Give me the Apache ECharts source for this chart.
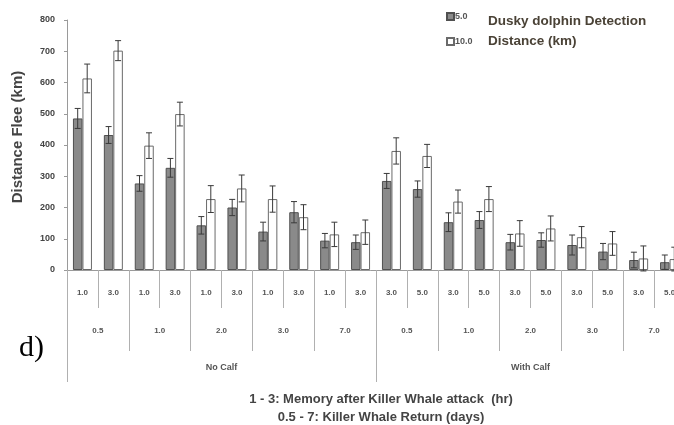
<!DOCTYPE html>
<html><head><meta charset="utf-8">
<script src="https://cdn.jsdelivr.net/npm/echarts@6/dist/echarts.min.js"></script>
<style>html,body{margin:0;padding:0;background:#fff}#c{width:674px;height:425px}</style>
</head><body><div id="c"></div>
<script>
const memoryLabels = ['1.0','3.0','1.0','3.0','1.0','3.0','1.0','3.0','1.0','3.0',
                      '3.0','5.0','3.0','5.0','3.0','5.0','3.0','5.0','3.0','5.0'];
const returnLabels = ['0.5','1.0','2.0','3.0','7.0','0.5','1.0','2.0','3.0','7.0'];
const calfLabels = ['No Calf','With Calf'];
const seriesNames = ['5.0','10.0'];
const det5 = [485,432,277,327,143,200,123,185,94,89,285,259,153,160,89,96,80,59,32,25];
const det5Err = [32,27,25,30,28,26,30,34,23,23,24,26,30,27,25,23,32,26,25,23];
const det10 = [613,702,398,499,227,261,227,169,114,121,381,365,219,227,117,133,105,85,37,35];
const det10Err = [46,32,41,38,43,43,42,40,39,39,42,37,37,40,41,40,34,38,40,38];
const yTitle = 'Distance Flee (km)';
const legendTitle = 'Dusky dolphin Detection\nDistance (km)';
const xTitle = '1 - 3: Memory after Killer Whale attack  (hr)\n0.5 - 7: Killer Whale Return (days)';
const panelLabel = 'd)';

const FONT = 'Liberation Sans';
const BW = 9.5;
const chart = echarts.init(document.getElementById('c'));

function errRender(shift){
  return function(params, api){
    const i = api.value(0), v = api.value(1), e = api.value(2);
    const t = api.coord([i, v + e]);
    const b = api.coord([i, v - e]);
    const cx = t[0] + shift, cw = 3;
    const st = {stroke:'#3a3a3a', lineWidth:1};
    return {type:'group', children:[
      {type:'line', shape:{x1:cx,y1:t[1],x2:cx,y2:b[1]}, style:st},
      {type:'line', shape:{x1:cx-cw,y1:t[1],x2:cx+cw,y2:t[1]}, style:st},
      {type:'line', shape:{x1:cx-cw,y1:b[1],x2:cx+cw,y2:b[1]}, style:st}
    ]};
  };
}

const labelBase = {fontFamily:FONT, fontWeight:'bold', color:'#555', interval:0};

chart.setOption({
  animation:false,
  backgroundColor:'#fff',
  grid:{left:67, top:20, width:618, height:250, containLabel:false, outerBoundsMode:'none'},
  title:{
    text: xTitle, left:376, top:385, textAlign:'center',
    textStyle:{fontFamily:FONT, fontWeight:'bold', fontSize:13, color:'#444', lineHeight:18}
  },
  legend:{
    data: seriesNames, orient:'vertical', left:441, top:7, itemGap:16,
    itemWidth:7, itemHeight:7, icon:'rect',
    textStyle:{fontFamily:FONT, fontWeight:'bold', fontSize:9, color:'#555', padding:[0,0,0,-4]}
  },
  graphic:[
    {type:'text', left:488, top:11, style:{text:legendTitle, fontFamily:FONT, fontWeight:'bold', fontSize:13.5, lineHeight:20, fill:'#4a4236'}},
    {type:'text', left:19, top:333, style:{text:panelLabel, fontFamily:'Liberation Serif', fontSize:30, fill:'#000'}}
  ],
  xAxis:[
    {type:'category', data:memoryLabels, position:'bottom', gridIndex:0,
     axisLine:{show:true, lineStyle:{color:'#9a9a9a'}},
     axisTick:{show:true, length:38, lineStyle:{color:'#b0b0b0'}},
     axisLabel:Object.assign({}, labelBase, {fontSize:8, margin:19})},
    {type:'category', data:returnLabels, position:'bottom', offset:0, gridIndex:0,
     axisLine:{show:false},
     axisTick:{show:true, length:81, lineStyle:{color:'#b0b0b0'}},
     axisLabel:Object.assign({}, labelBase, {fontSize:8, margin:57})},
    {type:'category', data:calfLabels, position:'bottom', offset:0, gridIndex:0,
     axisLine:{show:false},
     axisTick:{show:true, length:112, lineStyle:{color:'#b0b0b0'}},
     axisLabel:Object.assign({}, labelBase, {fontSize:9, margin:93})}
  ],
  yAxis:{
    type:'value', min:0, max:800, interval:100,
    name:yTitle, nameLocation:'middle', nameGap:42,
    nameTextStyle:{fontFamily:FONT, fontWeight:'bold', fontSize:15, color:'#444', padding:[0,0,0,16]},
    axisLine:{show:true, lineStyle:{color:'#9a9a9a'}},
    axisTick:{show:true, length:3, lineStyle:{color:'#9a9a9a'}},
    splitLine:{show:false},
    axisLabel:{fontFamily:FONT, fontWeight:'bold', fontSize:9, color:'#444', margin:12}
  },
  series:[
    {name:seriesNames[0], type:'bar', data:det5, barWidth:BW, barGap:'0%',
     itemStyle:{color:'#8a8a8a', borderColor:'#505050', borderWidth:1}},
    {name:seriesNames[1], type:'bar', data:det10, barWidth:BW, barGap:'0%',
     itemStyle:{color:'#ffffff', borderColor:'#6a6a6a', borderWidth:1}},
    {type:'custom', renderItem:errRender(-BW/2), z:5,
     data:det5.map((v,i)=>[i, v, det5Err[i]])},
    {type:'custom', renderItem:errRender(BW/2), z:5,
     data:det10.map((v,i)=>[i, v, det10Err[i]])}
  ]
});
</script></body></html>
